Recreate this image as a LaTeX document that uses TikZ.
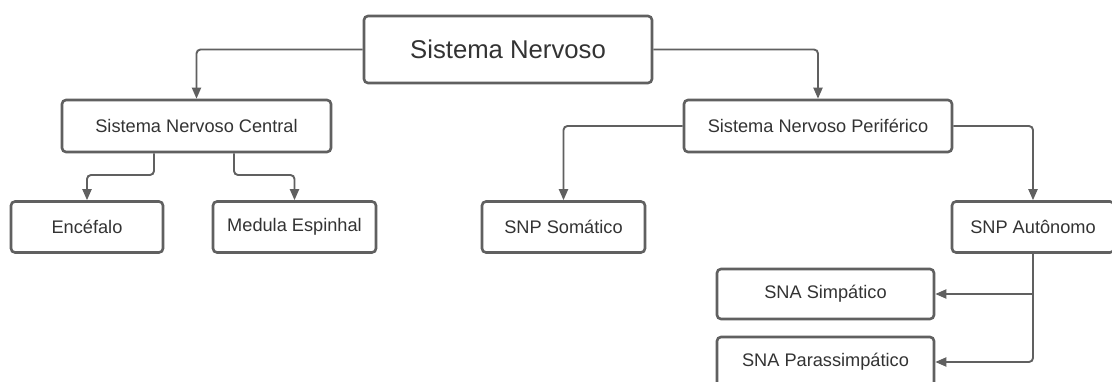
\documentclass[tikz,border=0pt]{standalone}
\usepackage{fontspec}
\setmainfont{Liberation Sans}
\usetikzlibrary{arrows.meta}
\definecolor{linegray}{HTML}{606060}
\definecolor{textgray}{HTML}{333333}
\tikzset{
  box/.style={draw=linegray, line width=2.6pt, rounded corners=4pt, fill=white,
    inner sep=0pt, align=center, text=textgray,
    font=\fontsize{18.2}{22}\selectfont},
  conn/.style={draw=linegray, line width=1.9pt, rounded corners=4pt,
    -{Triangle[width=9pt,length=11pt]}},
  link/.style={draw=linegray, line width=1.9pt, rounded corners=4pt}
}
\begin{document}
\begin{tikzpicture}[x=1pt,y=-1pt]
  \useasboundingbox[fill=white] (0,0) rectangle (1112,382);

  % nodes
  \node[box, minimum width=288pt, minimum height=67pt,
        font=\fontsize{25.7}{30}\selectfont] (main) at (508,49.5) {Sistema Nervoso};
  \node[box, minimum width=269pt, minimum height=52pt] (snc) at (196.5,126) {Sistema Nervoso Central};
  \node[box, minimum width=268pt, minimum height=52pt] (snp) at (818,126) {Sistema Nervoso Periférico};
  \node[box, minimum width=152pt, minimum height=51pt] (enc) at (87,227) {Encéfalo};
  \node[box, minimum width=163pt, minimum height=51pt] (med) at (294.5,227) {Medula Espinhal};
  \node[box, minimum width=163pt, minimum height=51pt] (som) at (563.5,227) {SNP Somático};
  \node[box, minimum width=162pt, minimum height=51pt] (aut) at (1033,227) {SNP Autônomo};
  \node[box, minimum width=217pt, minimum height=50pt] (sim) at (825.5,294) {SNA Simpático};
  \node[box, minimum width=217pt, minimum height=50pt] (par) at (825.5,362) {SNA Parassimpático};

  % connectors
  \draw[conn] (main.west) -| (snc.north);
  \draw[conn] (main.east) -| (snp.north);

  \coordinate (sncA) at ([xshift=-42.5pt]snc.south);
  \coordinate (sncB) at ([xshift=37.5pt]snc.south);
  \draw[conn] (sncA) -- (sncA |- 0,175) -| (enc.north);
  \draw[conn] (sncB) -- (sncB |- 0,175) -| (med.north);

  \draw[conn] (snp.west) -| (som.north);
  \draw[conn] (snp.east) -| (aut.north);

  \draw[conn] (aut.south) |- (par.east);
  \draw[conn] (aut.south |- sim.east) -- (sim.east);
\end{tikzpicture}
\end{document}
